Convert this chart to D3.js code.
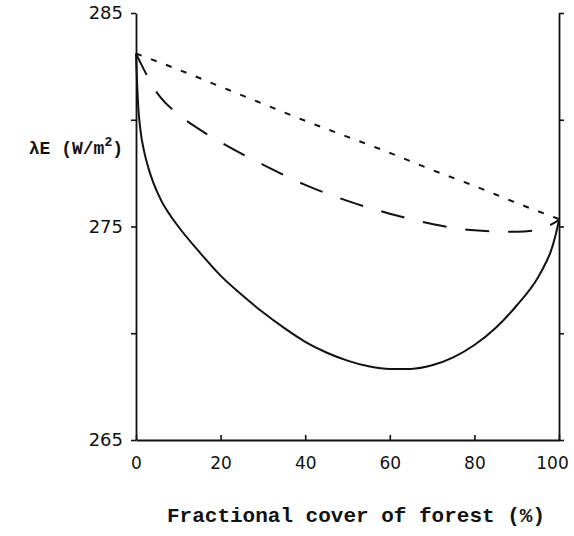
<!DOCTYPE html>
<html>
<head>
<meta charset="utf-8">
<script src="https://cdn.jsdelivr.net/npm/d3@7/dist/d3.min.js"></script>
<style>
  html, body { margin: 0; padding: 0; background: #fff; }
  svg { display: block; }
</style>
</head>
<body>
<script>
// ---- Data ----
const xTicks = [0, 20, 40, 60, 80, 100];
const yTicks = [265, 270, 275, 280, 285];
const yTickLabels = [265, 275, 285];

// Short-dashed series
const shortDashX = [0, 10, 20, 30, 40, 50, 60, 70, 80, 90, 100];
const shortDashY = [283.1, 282.35, 281.55, 280.75, 279.95, 279.2, 278.45, 277.65, 276.9, 276.1, 275.35];

// Long-dashed series
const longDashX = [0, 2, 4, 6, 10, 15, 20, 30, 40, 50, 60, 70, 80, 90, 95, 100];
const longDashY = [283.1, 282.3, 281.55, 281.0, 280.25, 279.55, 278.95, 277.9, 276.95, 276.2, 275.6, 275.12, 274.82, 274.75, 274.85, 275.3];

// Solid series
const solidX = [0, 0.5, 1, 2, 3, 4, 6, 8, 10, 15, 20, 25, 30, 35, 40, 45, 50, 55, 60, 65, 70, 75, 80, 85, 90, 95, 97, 98, 99, 100];
const solidY = [283.1, 280.7, 279.6, 278.45, 277.7, 277.1, 276.2, 275.55, 275.0, 273.8, 272.7, 271.8, 270.98, 270.25, 269.6, 269.1, 268.72, 268.45, 268.32, 268.33, 268.5, 268.87, 269.45, 270.25, 271.3, 272.6, 273.35, 273.8, 274.45, 275.3];

const W = 574, H = 536;
const svg = d3.select("body").append("svg").attr("width", W).attr("height", H);

const x = d3.scaleLinear().domain([0, 100]).range([136, 559]);
const y = d3.scaleLinear().domain([265, 285]).range([440, 13]);

const numFont = "'DejaVu Sans', sans-serif";
const monoFont = "'Liberation Mono', 'DejaVu Sans Mono', monospace";

function styleAxis(g) {
  g.selectAll("path.domain").attr("stroke", "#111").attr("stroke-width", 1.8);
  g.selectAll(".tick line").attr("stroke", "#111").attr("stroke-width", 1.6);
  g.selectAll(".tick text").attr("fill", "#111").attr("font-family", numFont).attr("font-size", 18);
}

// Left axis
svg.append("g")
  .attr("transform", `translate(${x(0)},0)`)
  .call(d3.axisLeft(y).tickValues(yTicks).tickSizeInner(5).tickSizeOuter(0).tickPadding(8)
        .tickFormat(d => yTickLabels.includes(d) ? d : ""))
  .call(styleAxis);

// Right axis (ticks only)
svg.append("g")
  .attr("transform", `translate(${x(100)},0)`)
  .call(d3.axisRight(y).tickValues(yTicks).tickSizeInner(5).tickSizeOuter(0).tickFormat(""))
  .call(styleAxis);

// Bottom axis (inward ticks)
const gx = svg.append("g")
  .attr("transform", `translate(0,${y(265)})`)
  .call(d3.axisBottom(x).tickValues(xTicks).tickSizeInner(-5).tickSizeOuter(0).tickPadding(17))
  .call(styleAxis);
gx.selectAll(".tick text").attr("font-size", 17)
  .attr("dx", d => d === 100 ? -7 : 0);

// Lines
const line = d3.line().x(d => x(d[0])).y(d => y(d[1])).curve(d3.curveMonotoneX);

function drawSeries(xs, ys, dash, w) {
  svg.append("path")
    .datum(xs.map((v, i) => [v, ys[i]]))
    .attr("d", line)
    .attr("fill", "none")
    .attr("stroke", "#111")
    .attr("stroke-width", w)
    .attr("stroke-dasharray", dash);
}
drawSeries(shortDashX, shortDashY, "6,10", 2);
drawSeries(longDashX, longDashY, "24,19", 2);
drawSeries(solidX, solidY, null, 2);

// Axis titles
svg.append("text")
  .attr("x", 356).attr("y", 522)
  .attr("text-anchor", "middle")
  .attr("font-family", monoFont).attr("font-weight", "bold").attr("font-size", 21)
  .attr("fill", "#111")
  .text("Fractional cover of forest (%)");

const yl = svg.append("text")
  .attr("x", 123).attr("y", 154)
  .attr("text-anchor", "end")
  .attr("font-family", monoFont).attr("font-weight", "bold").attr("font-size", 18)
  .attr("fill", "#111");
yl.append("tspan").text("λE (W/m");
yl.append("tspan").attr("dy", -8).attr("font-size", 13).text("2");
yl.append("tspan").attr("dy", 8).text(")");
</script>
</body>
</html>
